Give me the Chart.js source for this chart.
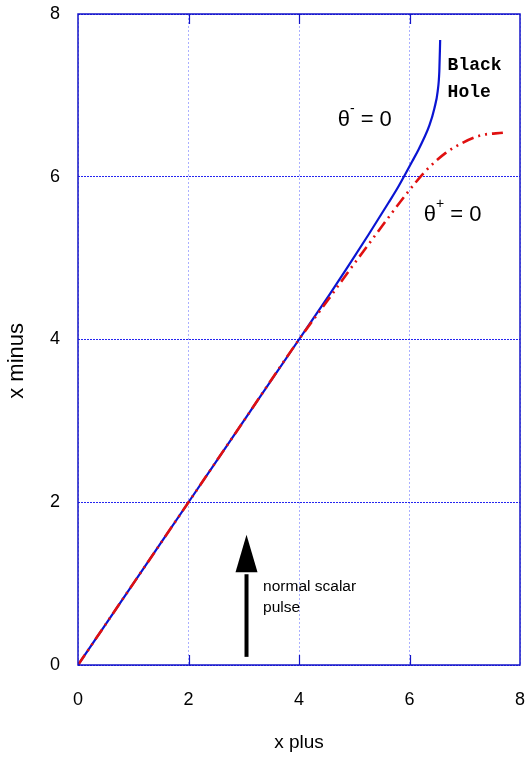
<!DOCTYPE html>
<html><head><meta charset="utf-8">
<script src="https://cdn.jsdelivr.net/npm/chart.js@4.4.1/dist/chart.umd.min.js"></script>
<style>html,body{margin:0;padding:0;background:#fff}canvas{display:block}</style>
</head><body>
<canvas id="c" width="530" height="760"></canvas>
<script>
const xTicks = [0, 2, 4, 6, 8];
const yTicks = [0, 2, 4, 6, 8];
const blueX = [0, 1, 2, 3, 4, 4.54, 4.9, 5.26, 5.62, 5.8, 5.93, 6.05, 6.16, 6.26, 6.36, 6.45, 6.51, 6.54, 6.555];
const blueY = [0, 1, 2, 3, 4, 4.54, 4.91, 5.29, 5.68, 5.88, 6.04, 6.19, 6.33, 6.47, 6.63, 6.84, 7.05, 7.3, 7.68];
const redX = [0, 1, 2, 3, 4, 4.54, 4.9, 5.26, 5.62, 5.98, 6.29, 6.65, 6.94, 7.3, 7.69];
const redY = [0, 1, 2, 3, 4, 4.50, 4.84, 5.17, 5.50, 5.82, 6.07, 6.29, 6.41, 6.51, 6.54];
const labelMinus = {x: 5.19, y: 6.70, sign: '-'};
const labelPlus = {x: 6.78, y: 5.53, sign: '+'};
const bhLines = ['Black', 'Hole'];
const bhPos = {x: 6.69, y1: 7.37, y2: 7.04};
const arrow = {x: 3.05, y0: 0.1, y1: 1.6, head: 1.14};
const pulseLines = ['normal scalar', 'pulse'];
const pulsePos = {x: 3.35, y1: 0.96, y2: 0.70};

const pts = (xs, ys) => xs.map((x, i) => ({x: x, y: ys[i]}));
const FONT = '"Liberation Sans", Arial, sans-serif';

const decor = {
  id: 'decor',
  afterDatasetsDraw(chart) {
    const {ctx, chartArea: a, scales: {x, y}} = chart;
    ctx.save();
    ctx.strokeStyle = '#1414c8'; ctx.lineWidth = 1.2;
    xTicks.slice(1, -1).forEach(v => {
      const px = Math.round(x.getPixelForValue(v)) + 0.5;
      ctx.beginPath(); ctx.moveTo(px, a.bottom); ctx.lineTo(px, a.bottom - 10);
      ctx.moveTo(px, a.top); ctx.lineTo(px, a.top + 10); ctx.stroke();
    });
    ctx.strokeStyle = '#1414c8'; ctx.lineWidth = 1.5;
    ctx.strokeRect(a.left, a.top, a.right - a.left, a.bottom - a.top);
    const ax = x.getPixelForValue(arrow.x);
    const ay0 = y.getPixelForValue(arrow.y0), ay1 = y.getPixelForValue(arrow.y1), ah = y.getPixelForValue(arrow.head);
    ctx.strokeStyle = '#000'; ctx.fillStyle = '#000'; ctx.lineWidth = 4;
    ctx.beginPath(); ctx.moveTo(ax, ay0); ctx.lineTo(ax, ah + 2); ctx.stroke();
    ctx.beginPath(); ctx.moveTo(ax, ay1); ctx.lineTo(ax - 11, ah); ctx.lineTo(ax + 11, ah); ctx.closePath(); ctx.fill();
    ctx.font = '15.5px ' + FONT; ctx.textAlign = 'left'; ctx.textBaseline = 'middle';
    ctx.fillText(pulseLines[0], x.getPixelForValue(pulsePos.x), y.getPixelForValue(pulsePos.y1));
    ctx.fillText(pulseLines[1], x.getPixelForValue(pulsePos.x), y.getPixelForValue(pulsePos.y2));
    ctx.font = 'bold 18px "Liberation Mono", "Courier New", monospace';
    ctx.fillText(bhLines[0], x.getPixelForValue(bhPos.x), y.getPixelForValue(bhPos.y1));
    ctx.fillText(bhLines[1], x.getPixelForValue(bhPos.x), y.getPixelForValue(bhPos.y2));
    [labelMinus, labelPlus].forEach(l => {
      const cx = x.getPixelForValue(l.x), cy = y.getPixelForValue(l.y);
      ctx.font = '22px ' + FONT;
      const w1 = ctx.measureText('θ').width;
      ctx.font = '14px ' + FONT;
      const w2 = ctx.measureText(l.sign).width;
      ctx.font = '22px ' + FONT;
      const w3 = ctx.measureText(' = 0').width;
      const sx = cx - (w1 + w2 + w3) / 2;
      ctx.textAlign = 'left';
      ctx.fillText('θ', sx, cy);
      ctx.font = '14px ' + FONT;
      ctx.fillText(l.sign, sx + w1, cy - 11);
      ctx.font = '22px ' + FONT;
      ctx.fillText(' = 0', sx + w1 + w2, cy);
    });
    ctx.restore();
  }
};

new Chart(document.getElementById('c'), {
  type: 'scatter',
  data: {
    datasets: [
      {label: 'theta- = 0', data: pts(blueX, blueY), showLine: true, borderColor: '#0a14d2', borderWidth: 2.2,
       pointRadius: 0, cubicInterpolationMode: 'monotone', order: 2},
      {label: 'theta+ = 0', data: pts(redX, redY), showLine: true, borderColor: '#e01010', borderWidth: 2.6,
       borderDash: [12, 5, 2, 5, 2, 5], pointRadius: 0, cubicInterpolationMode: 'monotone', order: 1}
    ]
  },
  options: {
    responsive: false, animation: false, devicePixelRatio: 1,
    layout: {padding: {top: 14, right: 10, left: 0, bottom: 0}},
    plugins: {legend: {display: false}, tooltip: {enabled: false}},
    scales: {
      x: {
        type: 'linear', min: 0, max: 8,
        afterBuildTicks: s => { s.ticks = xTicks.map(v => ({value: v})); },
        afterFit: s => { s.height = 95; s.paddingLeft = 0; s.paddingRight = 0; },
        ticks: {color: '#000', font: {family: FONT, size: 18}, padding: 24},
        grid: {color: '#aab0ff', lineWidth: 1, drawTicks: false},
        border: {display: false, dash: [2, 2]},
        title: {display: true, text: 'x plus', color: '#000', font: {family: FONT, size: 19}, padding: {top: 0, bottom: 6}}
      },
      y: {
        type: 'linear', min: 0, max: 8,
        afterBuildTicks: s => { s.ticks = yTicks.map(v => ({value: v})); },
        afterFit: s => { s.width = 78; s.paddingTop = 0; s.paddingBottom = 0; },
        ticks: {color: '#000', font: {family: FONT, size: 18}, padding: 18},
        grid: {color: '#2424f0', lineWidth: 1, drawTicks: false},
        border: {display: false, dash: [2, 1]},
        title: {display: true, text: 'x minus       ', color: '#000', font: {family: FONT, size: 22}, padding: {top: 4, bottom: 0}}
      }
    }
  },
  plugins: [decor]
});
</script>
</body></html>
